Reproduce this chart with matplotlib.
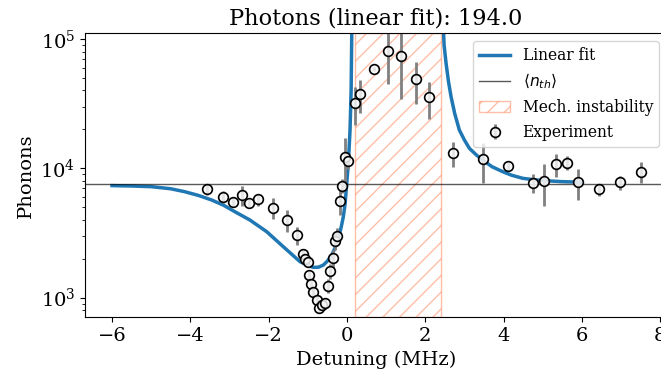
import matplotlib
matplotlib.use("Agg")
import matplotlib.pyplot as plt
import numpy as np

plt.rcParams["font.family"] = "DejaVu Serif"
plt.rcParams["font.size"] = 14

# experiment (detuning in MHz, phonons, error)
det = [-3.58, -3.16, -2.90, -2.69, -2.50, -2.28, -1.90, -1.54, -1.285, -1.116,
       -1.073, -1.004, -0.971, -0.920, -0.861, -0.774, -0.708, -0.646, -0.562, -0.478,
       -0.434, -0.365, -0.307, -0.248, -0.179, -0.120, -0.051, 0.033, 0.204, 0.332,
       0.697, 1.040, 1.387, 1.762, 2.094, 2.715, 3.466, 4.120, 4.759, 5.040,
       5.331, 5.612, 5.908, 6.437, 6.981, 7.517]
phonons = [6880, 6030, 5517, 6217, 5420, 5755, 4955, 3981, 3048, 2193,
           1977, 1897, 1496, 1273, 1099, 958, 836, 877, 914, 1236,
           1615, 2013, 2754, 3014, 5586, 7333, 12160, 11390, 32140, 37580,
           58330, 80710, 74300, 49090, 35400, 13210, 11740, 10470, 7740, 8020,
           10740, 11050, 7795, 6880, 7795, 9413]
phonons_err = [700, 600, 500, 1100, 400, 600, 900, 750, 500, 200,
               150, 150, 120, 100, 90, 80, 70, 70, 80, 150,
               220, 330, 400, 450, 1200, 900, 4900, 1500, 10600, 10800,
               2000, 36000, 40000, 17700, 11400, 2900, 4000, 800, 1250, 2870,
               2100, 1380, 2100, 750, 1000, 1700]

# linear fit (red and blue detuned sides)
fit_det_red = [-6.0, -5.5, -4.99, -4.5, -4.14, -3.8, -3.456, -3.15, -2.861, -2.478,
               -2.051, -1.627, -1.4, -1.2, -1.0, -0.861, -0.73, -0.605, -0.5, -0.391,
               -0.3, -0.222, -0.15, -0.0945, -0.05, -0.008, 0.038, 0.077, 0.105, 0.13]
fit_n_red = [7350, 7300, 7210, 6950, 6591, 6180, 5690, 5180, 4614, 3982,
             3237, 2477, 2150, 1897, 1780, 1715, 1720, 1786, 1920, 2134,
             2450, 2876, 3500, 4226, 5300, 7570, 11590, 19770, 40360, 200000]
fit_det_blue = [2.43, 2.478, 2.529, 2.59, 2.656, 2.75, 2.868, 3.0, 3.124, 3.3,
                3.466, 3.7, 3.977, 4.2, 4.488, 4.8, 5.083, 5.45, 5.849, 6.0]
fit_n_blue = [200000, 89950, 64860, 47000, 35820, 26500, 19770, 16500, 14280, 12700,
              11590, 10300, 9413, 8850, 8369, 8150, 8019, 7900, 7834, 7800]

n_th = 7550
instability = (0.2, 2.4)

fig = plt.figure(figsize=(6.61, 3.8), dpi=100)
ax = fig.add_axes([0.1286, 0.165, 0.8805, 0.7474])

ax.plot(fit_det_red, fit_n_red, color="tab:blue", lw=2.5, label="Linear fit")
ax.plot(fit_det_blue, fit_n_blue, color="tab:blue", lw=2.5)
ax.axhline(n_th, color="k", lw=1, alpha=0.65, label=r"$\langle n_{th} \rangle$")
ax.axvspan(*instability, facecolor="none", edgecolor="coral", alpha=0.5,
           hatch="//", label="Mech. instability")
ax.errorbar(det, phonons, yerr=phonons_err, fmt="o", ms=7, mfc=(0.97, 0.97, 0.97, 0.85),
            mec="k", mew=1.2, ecolor="gray", elinewidth=2, label="Experiment")

ax.set_yscale("log")
ax.set_xlim(-6.69, 8.17)
ax.set_ylim(705, 1.107e5)
ax.set_xticks(np.arange(-6, 9, 2))
ax.set_xlabel("Detuning (MHz)")
ax.set_ylabel("Phonons")
ax.set_title("Photons (linear fit): 194.0", fontsize=16.2)
ax.legend(loc="upper right", fontsize=11.2)

fig.savefig("out.png", dpi=100)
